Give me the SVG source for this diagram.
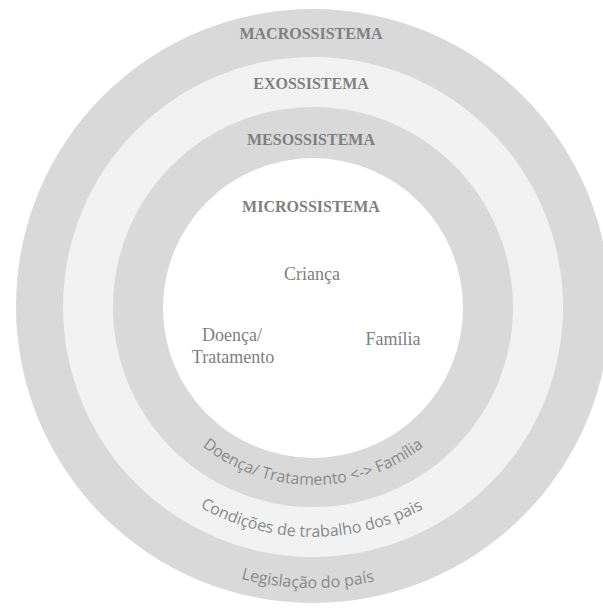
<svg xmlns="http://www.w3.org/2000/svg" width="603" height="608" viewBox="0 0 603 608">
  <defs>
    <style>
      .ring-dark { fill: #d9d9d9; }
      .ring-light { fill: #f2f2f2; }
      .core { fill: #ffffff; }
      .title { font-family: "Liberation Serif", "Times New Roman", serif; font-weight: bold; font-size: 16px; fill: #7f7f7f; text-anchor: middle; }
      .label { font-family: "Liberation Serif", "Times New Roman", serif; font-size: 18px; fill: #7f7f7f; text-anchor: middle; }
      .arc { font-family: "Open Sans", "Liberation Sans", sans-serif; font-size: 16px; fill: #898989; text-anchor: middle; }
    </style>
    <path id="arcMeso" d="M 135 307 A 178 178 0 0 0 491 307"/>
    <path id="arcExo" d="M 83 307 A 230 230 0 0 0 543 307"/>
    <path id="arcMacro" d="M 32 307 A 281 281 0 0 0 594 307"/>
  </defs>
  <rect width="603" height="608" fill="#ffffff"/>

  <g id="macrossistema">
    <circle class="ring-dark" cx="313" cy="306" r="297"/>
    <text class="title" x="311" y="39">MACROSSISTEMA</text>
    <text class="arc"><textPath href="#arcMacro" startOffset="49.4%">Legislação do país</textPath></text>
  </g>

  <g id="exossistema">
    <circle class="ring-light" cx="313" cy="307" r="250"/>
    <text class="title" x="311" y="89">EXOSSISTEMA</text>
    <text class="arc"><textPath href="#arcExo" startOffset="49.8%">Condições de trabalho dos pais</textPath></text>
  </g>

  <g id="mesossistema">
    <circle class="ring-dark" cx="313" cy="307" r="200"/>
    <text class="title" x="311" y="145">MESOSSISTEMA</text>
    <text class="arc"><textPath href="#arcMeso" startOffset="50%">Doença/ Tratamento &lt;-&gt; Família</textPath></text>
  </g>

  <g id="microssistema">
    <circle class="core" cx="313" cy="308" r="150"/>
    <text class="title" x="311" y="212">MICROSSISTEMA</text>
  </g>

  <g id="crianca">
    <text class="label" x="312" y="280">Criança</text>
  </g>
  <g id="doenca-tratamento">
    <text class="label" x="232" y="341">Doença/</text>
    <text class="label" x="233" y="363">Tratamento</text>
  </g>
  <g id="familia">
    <text class="label" x="393" y="345">Família</text>
  </g>

  <g id="connectors"></g>
</svg>
